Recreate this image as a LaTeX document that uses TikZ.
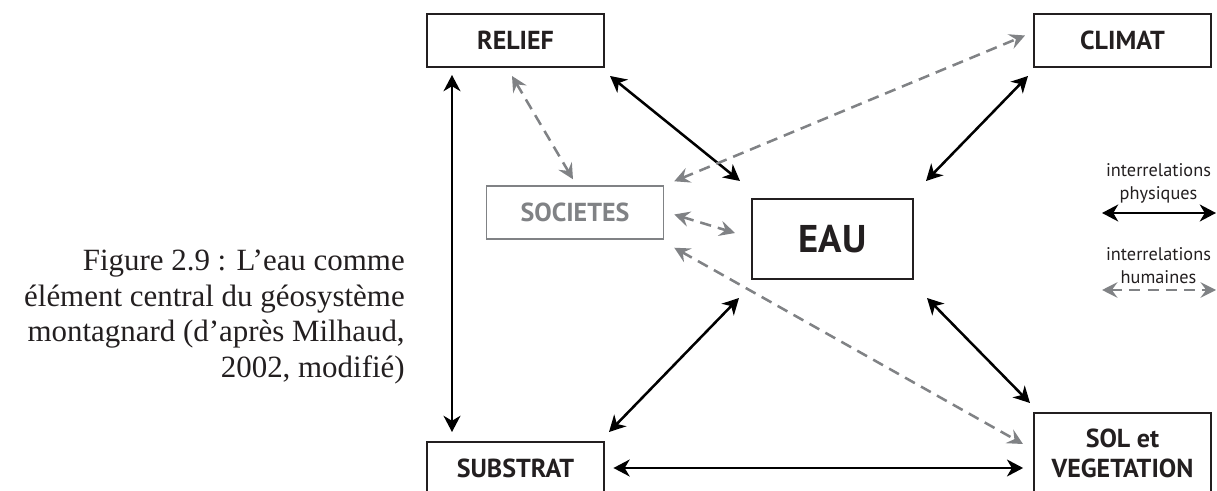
\documentclass[tikz,border=0pt]{standalone}
\usepackage{fontspec}
\setmainfont{Liberation Serif}
\setsansfont{PT Sans}
\usetikzlibrary{arrows.meta, positioning}
\definecolor{ink}{RGB}{35,31,32}
\definecolor{humgray}{RGB}{128,130,133}
\tikzset{%
  box/.style={draw=ink, line width=1.4pt, text=ink, inner sep=0pt, align=center,
    minimum width=4.425cm, minimum height=1.325cm,
    font=\sffamily\bfseries\fontsize{18.5}{21}\selectfont},
  socbox/.style={box, draw=humgray, text=humgray, line width=1pt},
  phys/.style={line width=1.8pt, draw=black,
    {Stealth[length=11.5pt,width=12pt,inset=3.5pt]}-{Stealth[length=11.5pt,width=12pt,inset=3.5pt]}},
  hum/.style={line width=1.8pt, draw=humgray, dash pattern=on 8pt off 5pt,
    {Stealth[length=11pt,width=11pt,inset=4pt]}-{Stealth[length=11pt,width=11pt,inset=4pt]}},
  legend/.style={align=center, inner sep=0pt, text=ink,
    font=\sffamily\fontsize{13}{16.4}\selectfont},
  caption/.style={align=right, inner sep=0pt, text=ink,
    font=\fontsize{22}{25.5}\selectfont}
}

\begin{document}
\begin{tikzpicture}[x=0.025cm, y=-0.025cm]
  \useasboundingbox (0,0) rectangle (1217,491);
  \clip (0,0) rectangle (1217,491);

  % boxes
  \node[box] (relief) at (515.5,40.5) {RELIEF};
  \node[box] (climat) at (1122.5,40.5) {CLIMAT};
  \node[socbox] (societes) at (575,212.5) {SOCIETES};
  \node[box, minimum width=4.025cm, minimum height=2cm,
    font=\sffamily\bfseries\fontsize{27.5}{30}\selectfont] (eau) at (832.5,239) {EAU};
  \node[box, minimum height=1.3cm] (substrat) at (515.5,468) {SUBSTRAT};
  \node[box, minimum height=2cm, font=\sffamily\bfseries\fontsize{18.5}{21.3}\selectfont]
    (sol) at (1122.5,453) {SOL et\\VEGETATION};

  % caption
  \node[caption, anchor=east] (fig) at (405,317)
    {Figure 2.9 : L’eau comme\\élément central du géosystème\\montagnard (d’après Milhaud,\\2002, modifié)};

  % physical links
  \draw[phys] ([shift={(26,7)}]relief.south west) -- ([shift={(26,-9)}]substrat.north west);
  \draw[phys] ([shift={(5,8)}]relief.south east) -- ([shift={(-11,-17)}]eau.north west);
  \draw[phys] ([shift={(-5,8)}]climat.south west) -- ([shift={(12,-17)}]eau.north east);
  \draw[phys] ([shift={(-12,18)}]eau.south west) -- ([shift={(4,-9)}]substrat.north east);
  \draw[phys] ([shift={(13,18)}]eau.south east) -- ([shift={(-3,-9)}]sol.north west);
  \draw[phys, shorten <=6pt, shorten >=7pt] (substrat.east) -- (substrat.east -| sol.west);

  % human links
  \draw[hum] ([shift={(-3.5,8)}]relief.south) -- ([shift={(-2,-6)}]societes.north);
  \draw[hum] ([shift={(10,-4)}]societes.north east) -- ([shift={(-8,-5)}]climat.west);
  \draw[hum] ([shift={(10,2)}]societes.east) -- ([shift={(-16,-6)}]eau.west);
  \draw[hum] ([shift={(10,8)}]societes.south east) -- ([shift={(-10,-9)}]sol.west);

  % legend
  \node[legend] (lphys) at (1158.5,183) {interrelations\\physiques};
  \coordinate (p1) at (1102,213);
  \coordinate (p2) at (1216,213);
  \draw[phys] (p1) -- (p2);
  \node[legend] (lhum) at (1158.5,266) {interrelations\\humaines};
  \coordinate (h1) at (1102,290);
  \coordinate (h2) at (1216,290);
  \draw[hum] (h1) -- (h2);
\end{tikzpicture}
\end{document}
